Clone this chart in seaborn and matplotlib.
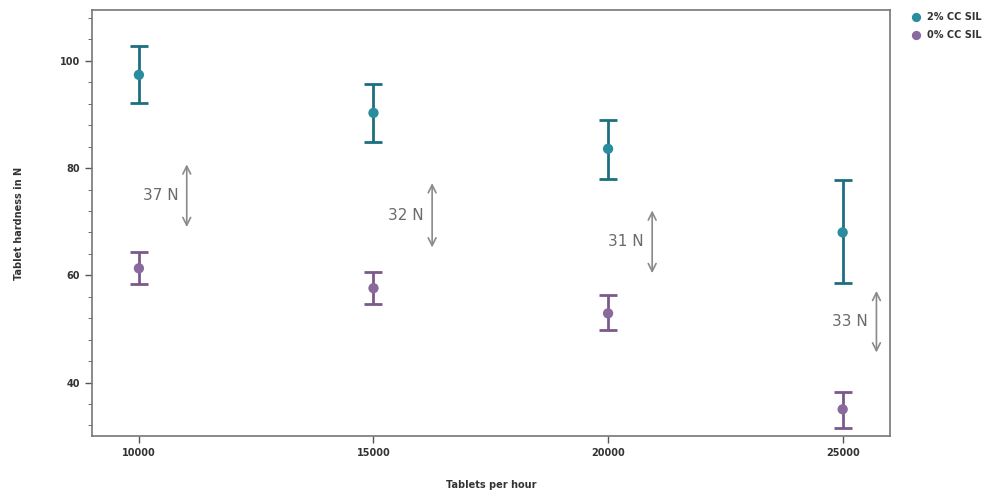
import numpy as np
import pandas as pd
import matplotlib
matplotlib.use("Agg")
import matplotlib.pyplot as plt
import seaborn as sns

# values
speeds = [10000, 15000, 20000, 25000]
sil2_mean = [97.4, 90.3, 83.6, 68.0]
sil2_low = [92.1, 84.9, 78.0, 58.5]
sil2_high = [102.8, 95.7, 89.0, 77.8]
sil0_mean = [61.3, 57.6, 52.9, 35.0]
sil0_low = [58.3, 54.6, 49.8, 31.6]
sil0_high = [64.3, 60.6, 56.3, 38.3]
diff_labels = ["37 N", "32 N", "31 N", "33 N"]
arrow_x = [11020, 16250, 20940, 25720]
arrow_top = [80.7, 77.2, 72.1, 57.1]
arrow_bottom = [69.0, 65.2, 60.4, 45.6]

sns.set_style("ticks")
plt.rcParams['font.family'] = ['DejaVu Sans']

teal = "#2a8c9c"
teal_dark = "#1d6f80"
purple = "#8a6a9c"
purple_dark = "#7a5a8c"

df = pd.DataFrame({
    "speed": speeds * 2,
    "hardness": sil2_mean + sil0_mean,
    "group": ["2% CC SIL"] * 4 + ["0% CC SIL"] * 4,
})

fig = plt.figure(figsize=(10.02, 4.99), dpi=100)
ax = fig.add_axes([0.0918, 0.126, 0.796, 0.854])

ax.errorbar(speeds, sil2_mean,
            yerr=[np.array(sil2_mean) - np.array(sil2_low), np.array(sil2_high) - np.array(sil2_mean)],
            fmt="none", ecolor=teal_dark, elinewidth=2, capsize=6.5, capthick=2, zorder=2)
ax.errorbar(speeds, sil0_mean,
            yerr=[np.array(sil0_mean) - np.array(sil0_low), np.array(sil0_high) - np.array(sil0_mean)],
            fmt="none", ecolor=purple_dark, elinewidth=2, capsize=6.5, capthick=2, zorder=2)

sns.scatterplot(data=df, x="speed", y="hardness", hue="group",
                palette={"2% CC SIL": teal, "0% CC SIL": purple},
                s=55, edgecolor="none", ax=ax, zorder=3)

# difference arrows and labels
for x, top, bot, lab in zip(arrow_x, arrow_top, arrow_bottom, diff_labels):
    ax.annotate("", xy=(x, top), xytext=(x, bot),
                arrowprops=dict(arrowstyle="<->", color="#8a8a8a", lw=1.2,
                                mutation_scale=14, shrinkA=0, shrinkB=0))
    ax.text(x - 180, (top + bot) / 2, lab, ha="right", va="center",
            fontsize=11, color="#6a6a6a")

ax.set_xlim(9000, 26000)
ax.set_ylim(30, 109.5)
ax.set_xticks(speeds)
ax.set_yticks([40, 60, 80, 100])
ax.set_yticks(np.arange(32, 109, 4), minor=True)
ax.tick_params(axis="both", labelsize=7, colors="#555555", labelcolor="#333333", length=5, width=1)
ax.tick_params(axis="y", which="minor", length=3, colors="#555555")
for lab in ax.get_xticklabels() + ax.get_yticklabels():
    lab.set_fontweight("bold")

for sp in ax.spines.values():
    sp.set_visible(True)
    sp.set_color("#777777")
    sp.set_linewidth(1.2)

ax.set_xlabel("Tablets per hour", fontsize=7, fontweight="bold", color="#333333", labelpad=16)
ax.set_ylabel("Tablet hardness in N", fontsize=7, fontweight="bold", color="#333333", labelpad=26)

handles, labels = ax.get_legend_handles_labels()
leg = ax.legend(handles, labels, loc="upper left", bbox_to_anchor=(1.01, 1.015),
                frameon=False, prop={"size": 7, "weight": "bold"},
                handletextpad=0.1, labelspacing=0.8, markerscale=0.9)
for t in leg.get_texts():
    t.set_color("#333333")

fig.savefig("out.png", dpi=100)
